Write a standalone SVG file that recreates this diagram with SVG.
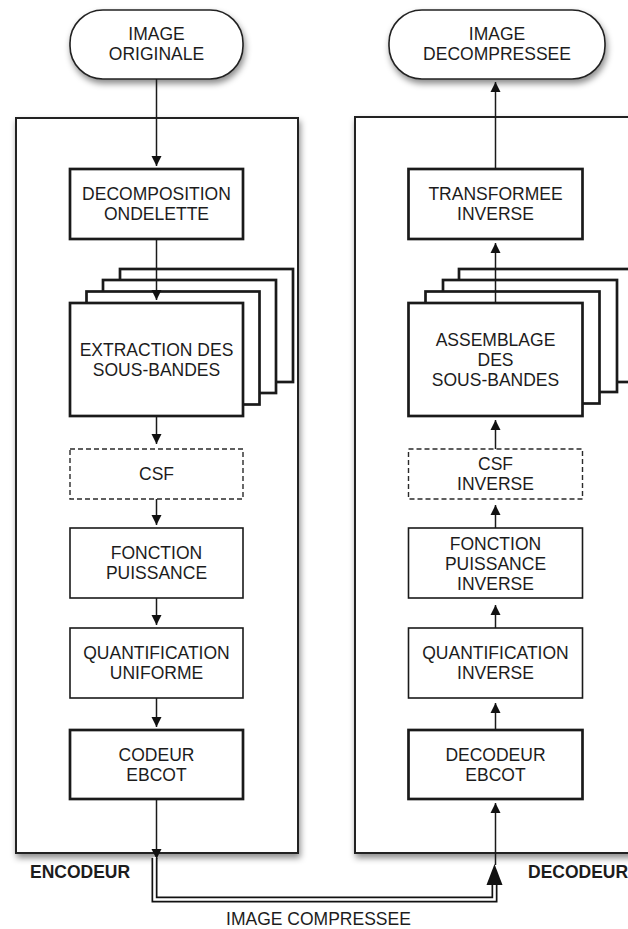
<svg xmlns="http://www.w3.org/2000/svg" width="628" height="929" viewBox="0 0 628 929">
  <style>
    text { font-family: "Liberation Sans", Arial, Helvetica, sans-serif; font-size: 17.5px; fill: #1c1c1c; text-anchor: middle; }
    .lbl { font-weight: bold; text-anchor: start; }
    .frame { fill: #fff; stroke: #222; stroke-width: 2; }
    .pill { fill: #fff; stroke: #222; stroke-width: 1.6; }
    .thick { fill: #fff; stroke: #1a1a1a; stroke-width: 2.7; }
    .thin { fill: #fff; stroke: #1a1a1a; stroke-width: 1.6; }
    .dash { fill: #fff; stroke: #2a2a2a; stroke-width: 1.4; stroke-dasharray: 5 3; }
    .link { fill: none; stroke: #1a1a1a; stroke-width: 1.5; }
  </style>
  <defs>
    <filter id="shadow" x="-10%" y="-10%" width="130%" height="130%">
      <feDropShadow dx="1.5" dy="4" stdDeviation="3" flood-color="#000" flood-opacity="0.45"/>
    </filter>
    <marker id="arrow" viewBox="0 0 10 12" refX="10" refY="6" markerWidth="10" markerHeight="12" markerUnits="userSpaceOnUse" orient="auto">
      <path d="M0,1 L10,6 L0,11 Z" fill="#111"/>
    </marker>
  </defs>

  <!-- encoder / decoder frames -->
  <g id="encoder-frame">
    <rect class="frame" x="16" y="118" width="282" height="735" filter="url(#shadow)"/>
    <text class="lbl" x="30" y="878">ENCODEUR</text>
  </g>
  <g id="decoder-frame">
    <rect class="frame" x="355" y="117" width="300" height="736" filter="url(#shadow)"/>
    <text class="lbl" x="528" y="878">DECODEUR</text>
  </g>

  <!-- terminals -->
  <g id="image-originale">
    <rect class="pill" x="70" y="10" width="173" height="69" rx="33" filter="url(#shadow)"/>
    <text x="156.5" y="40">IMAGE</text>
    <text x="156.5" y="60">ORIGINALE</text>
  </g>
  <g id="image-decompressee">
    <rect class="pill" x="389" y="10" width="216" height="69" rx="33" filter="url(#shadow)"/>
    <text x="497" y="40">IMAGE</text>
    <text x="497" y="60">DECOMPRESSEE</text>
  </g>

  <!-- encoder chain -->
  <g id="decomposition">
    <rect class="thick" x="70" y="169" width="173" height="70"/>
    <text x="156.5" y="200">DECOMPOSITION</text>
    <text x="156.5" y="220">ONDELETTE</text>
  </g>
  <g id="extraction">
    <rect class="thick" x="120" y="269" width="173" height="113"/>
    <rect class="thick" x="103" y="280" width="173" height="113"/>
    <rect class="thick" x="86.5" y="291.5" width="173" height="113"/>
    <rect class="thick" x="70" y="303" width="173" height="113"/>
    <text x="156.5" y="355.5">EXTRACTION DES</text>
    <text x="156.5" y="375.5">SOUS-BANDES</text>
  </g>
  <g id="csf">
    <rect class="dash" x="70" y="449" width="173" height="50"/>
    <text x="156.5" y="480">CSF</text>
  </g>
  <g id="fonction-puissance">
    <rect class="thin" x="70" y="528" width="173" height="70"/>
    <text x="156.5" y="559">FONCTION</text>
    <text x="156.5" y="579">PUISSANCE</text>
  </g>
  <g id="quantification">
    <rect class="thin" x="70" y="628" width="173" height="70"/>
    <text x="156.5" y="659">QUANTIFICATION</text>
    <text x="156.5" y="679">UNIFORME</text>
  </g>
  <g id="codeur-ebcot">
    <rect class="thick" x="70" y="730" width="173" height="69"/>
    <text x="156.5" y="760.5">CODEUR</text>
    <text x="156.5" y="780.5">EBCOT</text>
  </g>

  <!-- decoder chain -->
  <g id="transformee-inverse">
    <rect class="thick" x="408.5" y="169" width="174" height="70"/>
    <text x="495.5" y="200">TRANSFORMEE</text>
    <text x="495.5" y="220">INVERSE</text>
  </g>
  <g id="assemblage">
    <rect class="thick" x="459" y="269" width="190" height="113"/>
    <rect class="thick" x="443" y="280" width="174" height="112"/>
    <rect class="thick" x="425.5" y="291.5" width="174" height="112"/>
    <rect class="thick" x="408.5" y="303" width="174" height="113"/>
    <text x="495.5" y="345.5">ASSEMBLAGE</text>
    <text x="495.5" y="365.5">DES</text>
    <text x="495.5" y="385.5">SOUS-BANDES</text>
  </g>
  <g id="csf-inverse">
    <rect class="dash" x="408.5" y="449" width="174" height="50"/>
    <text x="495.5" y="470">CSF</text>
    <text x="495.5" y="490">INVERSE</text>
  </g>
  <g id="fonction-puissance-inverse">
    <rect class="thin" x="408.5" y="528" width="174" height="70"/>
    <text x="495.5" y="549.5">FONCTION</text>
    <text x="495.5" y="569.5">PUISSANCE</text>
    <text x="495.5" y="589.5">INVERSE</text>
  </g>
  <g id="quantification-inverse">
    <rect class="thin" x="408.5" y="628" width="174" height="70"/>
    <text x="495.5" y="659">QUANTIFICATION</text>
    <text x="495.5" y="679">INVERSE</text>
  </g>
  <g id="decodeur-ebcot">
    <rect class="thick" x="408.5" y="730" width="174" height="69"/>
    <text x="495.5" y="760.5">DECODEUR</text>
    <text x="495.5" y="780.5">EBCOT</text>
  </g>

  <!-- connectors -->
  <g id="connectors">
    <path class="link" d="M156.5,79 V166" marker-end="url(#arrow)"/>
    <path class="link" d="M156.5,239 V300" marker-end="url(#arrow)"/>
    <path class="link" d="M156.5,416 V444" marker-end="url(#arrow)"/>
    <path class="link" d="M156.5,499 V525" marker-end="url(#arrow)"/>
    <path class="link" d="M156.5,598 V625" marker-end="url(#arrow)"/>
    <path class="link" d="M156.5,698 V727" marker-end="url(#arrow)"/>
    <path class="link" d="M156.5,799 V859" marker-end="url(#arrow)"/>

    <path class="link" d="M495.5,865 V803" marker-end="url(#arrow)"/>
    <path class="link" d="M495.5,730 V703" marker-end="url(#arrow)"/>
    <path class="link" d="M495.5,628 V605" marker-end="url(#arrow)"/>
    <path class="link" d="M495.5,528 V505" marker-end="url(#arrow)"/>
    <path class="link" d="M495.5,449 V420" marker-end="url(#arrow)"/>
    <path class="link" d="M495.5,303 V243" marker-end="url(#arrow)"/>
    <path class="link" d="M495.5,169 V82" marker-end="url(#arrow)"/>

    <!-- compressed stream: double line -->
    <path d="M154.5,858 V899.5 H494.5 V883" fill="none" stroke="#111" stroke-width="6"/>
    <path d="M154.5,857 V899.5 H494.5 V882" fill="none" stroke="#fff" stroke-width="2.6"/>
    <path d="M494.5,864 L502.5,885 L486.5,885 Z" fill="#111"/>
    <text x="318.5" y="925">IMAGE COMPRESSEE</text>
  </g>
</svg>
